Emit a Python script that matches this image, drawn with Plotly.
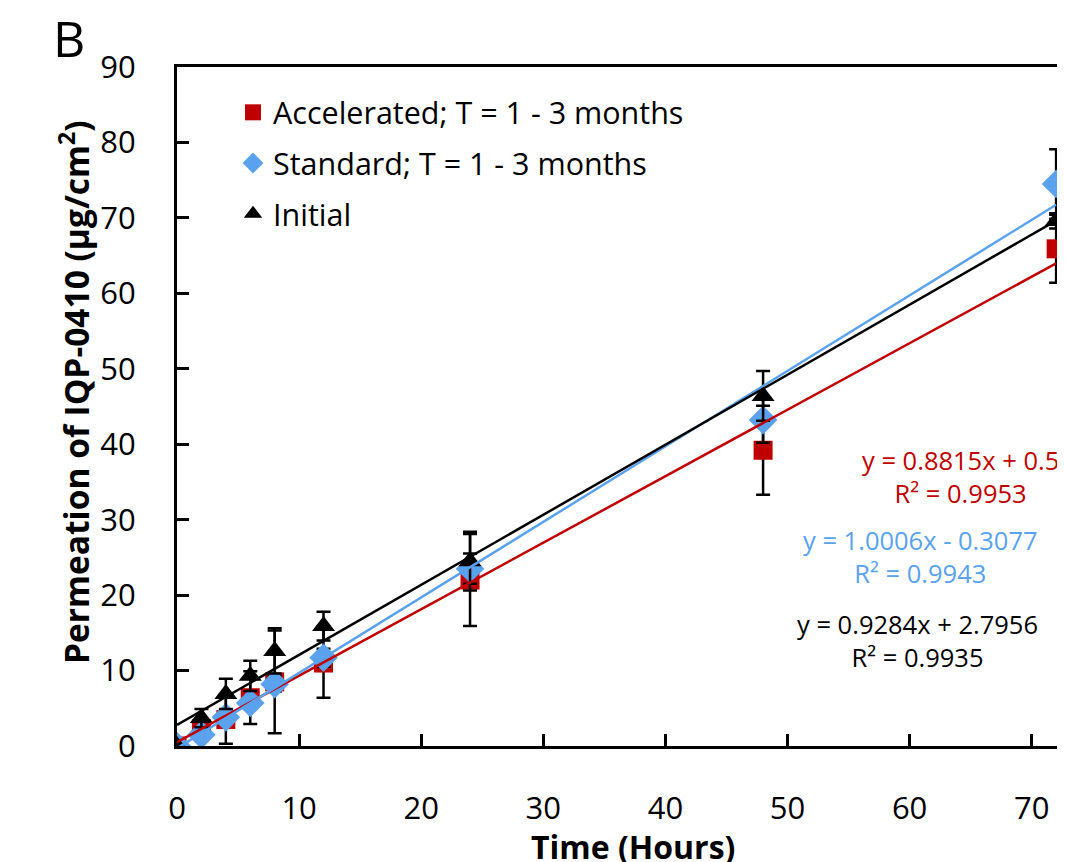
import plotly.graph_objects as go

# ---------------- data ----------------
time_h = [0, 2, 4, 6, 8, 12, 24, 48, 72]

accel_vals = [0.0, 2.3, 3.5, 6.4, 8.5, 11.0, 22.0, 39.2, 65.9]
accel_err = [0.0, 0.8, 3.2, 3.5, 6.8, 4.6, 6.1, 5.9, 4.5]

std_vals = [0.0, 1.5, 3.8, 5.7, 8.2, 11.7, 23.5, 43.2, 74.5]
std_err = [0.0, 0.3, 0.5, 0.8, 1.0, 1.2, 2.0, 3.0, 4.6]

init_vals = [0.0, 3.7, 6.9, 9.3, 12.6, 15.9, 24.5, 46.4, 69.6]
init_err = [0.0, 1.2, 2.0, 2.0, 3.0, 1.9, 3.9, 3.3, 1.0]

series_names = ["Accelerated; T = 1 - 3 months", "Standard; T = 1 - 3 months", "Initial"]
fit_slopes = [0.8815, 1.0006, 0.9284]
fit_intercepts = [0.5, -0.3077, 2.7956]
fit_r2 = [0.9953, 0.9943, 0.9935]
fit_x = [0, 72]

x_ticks = [0, 10, 20, 30, 40, 50, 60, 70]
y_ticks = [0, 10, 20, 30, 40, 50, 60, 70, 80, 90]

# ---------------- style ----------------
RED = "#C00000"
BLUE = "#5AA2EE"
BLACK = "#000000"
FONT = "Open Sans"
OFF = 8  # page body margin offset

fig = go.Figure()

markers = [
    dict(symbol="square", size=19, color=RED),
    dict(symbol="diamond", size=22, color=BLUE),
    dict(symbol="triangle-up", size=20, color=BLACK),
]
vals = [accel_vals, std_vals, init_vals]
errs = [accel_err, std_err, init_err]
colors = [RED, BLUE, BLACK]

for i in range(3):
    fig.add_trace(go.Scatter(
        x=time_h, y=vals[i], mode="markers", name=series_names[i],
        marker=markers[i], legendgroup=f"g{i}",
        error_y=dict(type="data", array=errs[i], visible=True,
                     color=BLACK, thickness=2.5, width=7),
    ))

for i in range(3):
    fy = [fit_slopes[i] * xv + fit_intercepts[i] for xv in fit_x]
    fig.add_trace(go.Scatter(
        x=fit_x, y=fy, mode="lines", showlegend=False,
        line=dict(color=colors[i], width=2.5), hoverinfo="skip",
    ))

def eq_text(i):
    s = fit_slopes[i]
    b = fit_intercepts[i]
    sign = "+" if b >= 0 else "-"
    bstr = f"{abs(b):g}"
    return f"y = {s:.4f}x {sign} {bstr}<br>R² = {fit_r2[i]:.4f}"

W, H = 1065, 862
AX_L, AX_T, AX_B = 177, 67, 746
L = AX_L - OFF
T = AX_T - OFF
B = H - (AX_B - OFF)
R = 0
pw, ph = W - L - R, H - T - B

def px2paper(px, py):
    return (px - AX_L) / pw, (AX_B - py) / ph

eq_pos = [(960, 476), (920, 556), (917, 640)]
annotations = []
for i in range(3):
    ax_, ay_ = px2paper(*eq_pos[i])
    annotations.append(dict(
        x=ax_, y=ay_, xref="paper", yref="paper",
        text=eq_text(i), showarrow=False, align="center",
        xanchor="center", yanchor="middle",
        font=dict(family=FONT, size=25.5, color=colors[i]),
    ))

bx, by = px2paper(69, 38)
annotations.append(dict(
    x=bx, y=by, xref="paper", yref="paper",
    text="B", showarrow=False, xanchor="center", yanchor="middle",
    font=dict(family=FONT, size=50, color=BLACK),
))
tx, ty = px2paper(633, 847)
annotations.append(dict(
    x=tx, y=ty, xref="paper", yref="paper",
    text="<b>Time (Hours)</b>", showarrow=False, xanchor="center", yanchor="middle",
    font=dict(family=FONT, size=32, color=BLACK),
))
yx, yy = px2paper(74, 392)
annotations.append(dict(
    x=yx, y=yy, xref="paper", yref="paper",
    text="<b>Permeation of IQP-0410 (µg/cm<sup>2</sup>)</b>", showarrow=False,
    textangle=-90, xanchor="center", yanchor="middle",
    font=dict(family=FONT, size=33.5, color=BLACK),
))

lx, ly = px2paper(233, 86)
fig.update_layout(
    width=W, height=H,
    margin=dict(l=L, r=R, t=T, b=B, pad=0),
    paper_bgcolor="white", plot_bgcolor="white",
    font=dict(family=FONT, size=30, color=BLACK),
    showlegend=True,
    legend=dict(
        x=lx, y=ly, xanchor="left", yanchor="top",
        bgcolor="rgba(0,0,0,0)", font=dict(family=FONT, size=30.5, color=BLACK),
        tracegroupgap=8, itemwidth=30,
    ),
    annotations=annotations,
)

fig.update_xaxes(
    range=[0, (W - L) / 12.21], tickvals=x_ticks, ticktext=[str(t) for t in x_ticks],
    showgrid=False, zeroline=False, showline=True, linecolor=BLACK, linewidth=3,
    mirror=True, ticks="inside", ticklen=12, tickwidth=3, tickcolor=BLACK,
    ticklabelstandoff=33, tickfont=dict(family=FONT, size=31), automargin=False,
)
fig.update_yaxes(
    range=[0, 90], tickvals=y_ticks, ticktext=[str(t) for t in y_ticks],
    showgrid=False, zeroline=False, showline=True, linecolor=BLACK, linewidth=3,
    ticks="inside", ticklen=12, tickwidth=3, tickcolor=BLACK,
    ticklabelstandoff=32, tickfont=dict(family=FONT, size=31), automargin=False,
)

fig.write_html("out.html")
